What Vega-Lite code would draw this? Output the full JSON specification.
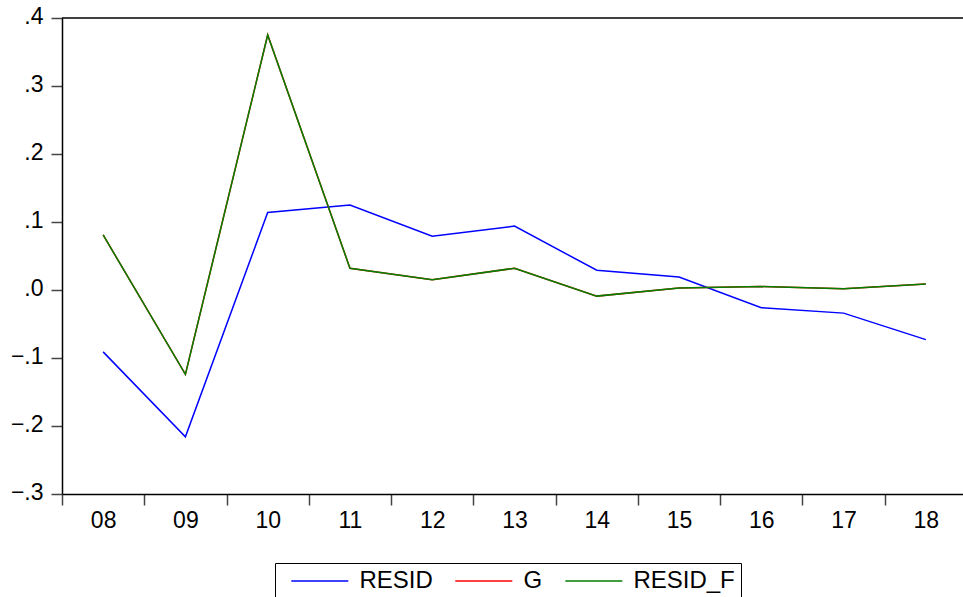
{
  "$schema": "https://vega.github.io/schema/vega-lite/v6.json",
  "width": 901,
  "height": 476,
  "autosize": {"type": "none"},
  "padding": {"left": 62, "top": 18, "right": 0, "bottom": 103},
  "background": "white",
  "config": {
    "view": {"stroke": null},
    "font": "Liberation Sans",
    "axis": {
      "domainColor": "black",
      "domainWidth": 1.5,
      "tickColor": "#444",
      "tickWidth": 1.5,
      "tickSize": 11,
      "labelColor": "black",
      "labelFont": "Liberation Sans",
      "labelFontSize": 23,
      "grid": false,
      "title": null
    }
  },
  "layer": [
    {
      "data": {"values": [{}]},
      "mark": {"type": "rule", "color": "black", "strokeWidth": 1.5},
      "encoding": {"y": {"datum": 0.4, "type": "quantitative"}}
    },
    {
      "data": {
        "values": [
          {"year": "08", "series": "RESID", "value": -0.091},
          {"year": "09", "series": "RESID", "value": -0.216},
          {"year": "10", "series": "RESID", "value": 0.114},
          {"year": "11", "series": "RESID", "value": 0.125},
          {"year": "12", "series": "RESID", "value": 0.079},
          {"year": "13", "series": "RESID", "value": 0.094},
          {"year": "14", "series": "RESID", "value": 0.029},
          {"year": "15", "series": "RESID", "value": 0.019},
          {"year": "16", "series": "RESID", "value": -0.026},
          {"year": "17", "series": "RESID", "value": -0.034},
          {"year": "18", "series": "RESID", "value": -0.073},
          {"year": "08", "series": "G", "value": 0.081},
          {"year": "09", "series": "G", "value": -0.124},
          {"year": "10", "series": "G", "value": 0.375},
          {"year": "11", "series": "G", "value": 0.032},
          {"year": "12", "series": "G", "value": 0.015},
          {"year": "13", "series": "G", "value": 0.032},
          {"year": "14", "series": "G", "value": -0.009},
          {"year": "15", "series": "G", "value": 0.003},
          {"year": "16", "series": "G", "value": 0.005},
          {"year": "17", "series": "G", "value": 0.002},
          {"year": "18", "series": "G", "value": 0.009},
          {"year": "08", "series": "RESID_F", "value": 0.081},
          {"year": "09", "series": "RESID_F", "value": -0.124},
          {"year": "10", "series": "RESID_F", "value": 0.375},
          {"year": "11", "series": "RESID_F", "value": 0.032},
          {"year": "12", "series": "RESID_F", "value": 0.015},
          {"year": "13", "series": "RESID_F", "value": 0.032},
          {"year": "14", "series": "RESID_F", "value": -0.009},
          {"year": "15", "series": "RESID_F", "value": 0.003},
          {"year": "16", "series": "RESID_F", "value": 0.005},
          {"year": "17", "series": "RESID_F", "value": 0.002},
          {"year": "18", "series": "RESID_F", "value": 0.009}
        ]
      },
      "mark": {"type": "line", "strokeWidth": 1.5},
      "encoding": {
        "x": {
          "field": "year",
          "type": "ordinal",
          "scale": {"type": "band", "paddingInner": 0, "paddingOuter": 0, "range": [0, 905]},
          "axis": {"tickBand": "extent", "labelAngle": 0, "labelPadding": 4}
        },
        "y": {
          "field": "value",
          "type": "quantitative",
          "scale": {"domain": [-0.3, 0.4], "nice": false, "zero": false},
          "axis": {
            "values": [-0.3, -0.2, -0.1, 0, 0.1, 0.2, 0.3, 0.4],
            "labelExpr": "replace(format(datum.value, '.1f'), '0.', '.')",
            "labelPadding": 8,
            "labelOffset": -2
          }
        },
        "color": {
          "field": "series",
          "type": "nominal",
          "scale": {"domain": ["RESID", "G", "RESID_F"], "range": ["#0000ff", "#ff0000", "#008000"]},
          "legend": {
            "title": null,
            "orient": "none",
            "legendX": 213,
            "legendY": 545,
            "direction": "horizontal",
            "symbolType": "M-5,0H5",
            "symbolSize": 130,
            "symbolStrokeWidth": 1.5,
            "symbolFillColor": "transparent",
            "symbolOffset": 26.8,
            "labelOffset": 27.6,
            "labelFontSize": 24,
            "labelFont": "Liberation Sans",
            "labelColor": "black",
            "columnPadding": 12,
            "padding": 6,
            "strokeColor": "black",
            "fillColor": "white"
          }
        }
      }
    }
  ]
}
